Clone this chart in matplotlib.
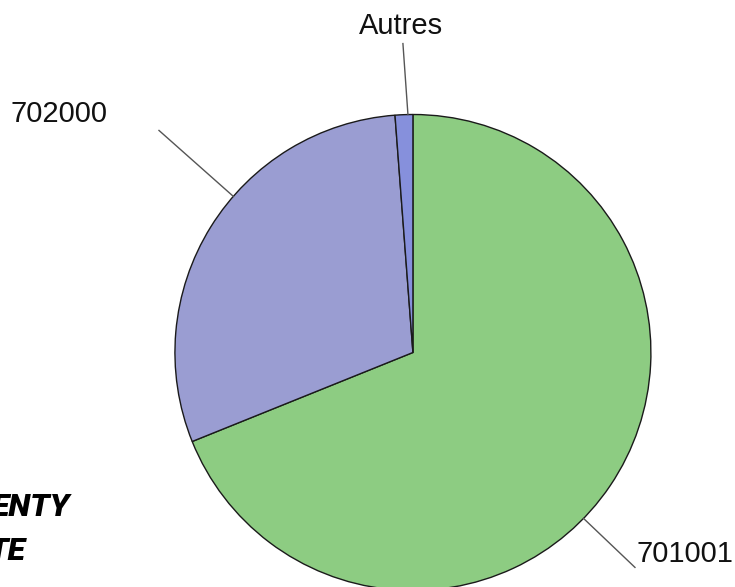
import matplotlib.pyplot as plt
import numpy as np

# shares, clockwise from the top
labels = ['701001', '702000', 'Autres']
shares = [68.9, 29.9, 1.2]
colors = ['#8dcc82', '#9a9dd2', '#8690dc']

fig = plt.figure(figsize=(7.35, 5.87), dpi=100)
ax = fig.add_axes([0.238, -0.006, 0.6476, 0.811])

wedges, _ = ax.pie(shares, colors=colors, startangle=90, counterclock=False,
                   wedgeprops=dict(edgecolor='#1a1a1a', linewidth=1.0))
ax.set_xlim(-1, 1)
ax.set_ylim(-1, 1)
ax.set_aspect('equal')
ax.axis('off')

# rim angle of the leader, outer end of the leader, text position, alignment
label_style = {
    '701001': (-44.2, (0.933, -0.903), (0.94, -0.845), 'left'),
    '702000': (139.0, (-1.067, 0.933), (-1.282, 1.004), 'right'),
    'Autres': (91.2, (-0.042, 1.298), (-0.050, 1.370), 'center'),
}
for lab in labels:
    ang, end, txt, ha = label_style[lab]
    a = np.deg2rad(ang)
    ax.plot([np.cos(a), end[0]], [np.sin(a), end[1]], color='#555555',
            lw=1.0, clip_on=False)
    ax.text(txt[0], txt[1], lab, ha=ha, va='center', fontsize=21,
            family='Liberation Sans', color='#111111', clip_on=False)

# clipped heavy caption at the lower left
cap = dict(fontsize=23, fontweight='heavy', style='italic', stretch='condensed',
           family='Roboto', ha='left', va='center')
fig.text(-0.011, 0.137, 'ENTY', **cap)
fig.text(-0.015, 0.061, 'TE', **cap)

fig.savefig('out.png', dpi=100)
